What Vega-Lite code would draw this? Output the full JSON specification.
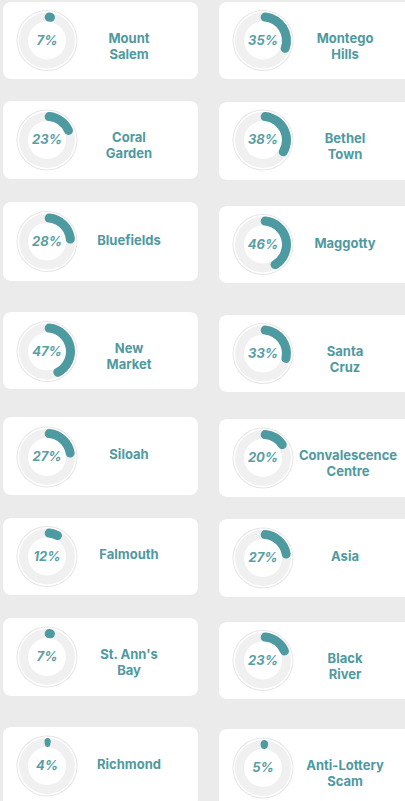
{
"$schema": "https://vega.github.io/schema/vega-lite/v6.json",
"background": "#ebebeb",
"padding": {"left": 3, "top": 2, "right": 0, "bottom": 0},
"config": {"view": {"fill": "white", "stroke": null, "cornerRadius": 8}, "font": "Inter"},
"datasets": {"cards": [
{"id": 1, "name": "Mount\nSalem", "pct": 0.07},
{"id": 2, "name": "Coral\nGarden", "pct": 0.23},
{"id": 3, "name": "Bluefields", "pct": 0.28},
{"id": 4, "name": "New\nMarket", "pct": 0.47},
{"id": 5, "name": "Siloah", "pct": 0.27},
{"id": 6, "name": "Falmouth", "pct": 0.12},
{"id": 7, "name": "St. Ann's\nBay", "pct": 0.07},
{"id": 8, "name": "Richmond", "pct": 0.04},
{"id": 9, "name": "Montego\nHills", "pct": 0.35},
{"id": 10, "name": "Bethel\nTown", "pct": 0.38},
{"id": 11, "name": "Maggotty", "pct": 0.46},
{"id": 12, "name": "Santa\nCruz", "pct": 0.33},
{"id": 13, "name": "Convalescence\nCentre", "pct": 0.20},
{"id": 14, "name": "Asia", "pct": 0.27},
{"id": 15, "name": "Black\nRiver", "pct": 0.23},
{"id": 16, "name": "Anti-Lottery\nScam", "pct": 0.05}
]},
"spacing": 21,
"hconcat": [
{"spacing": 22, "vconcat": [
 {"width": 195, "height": 77, "view": {"fill": "white", "stroke": null, "cornerRadius": 8}, "data": {"name": "cards"}, "transform": [{"filter": "datum.id == 1"}], "layer": [
  {"mark": {"type": "arc", "x": 44, "y": 38.5, "theta": 0, "theta2": 6.2832, "innerRadius": 29.5, "outerRadius": 30.5, "fill": "#e6e6e6"}, "encoding": {}},
  {"mark": {"type": "arc", "x": 44, "y": 38.5, "theta": 0, "theta2": 6.2832, "innerRadius": 19, "outerRadius": 28, "fill": "#f0f0f0"}, "encoding": {}},
  {"mark": {"type": "arc", "x": 44, "y": 38.5, "innerRadius": 19, "outerRadius": 28, "cornerRadius": 4.5, "fill": "#4d9aa1"}, "encoding": {"theta": {"field": "pct", "type": "quantitative", "stack": null, "scale": {"domain": [0, 1], "range": [-0.1, 6.1832]}}, "theta2": {"datum": 0}}},
  {"mark": {"type": "text", "x": 44, "y": 38.5, "fontSize": 13, "fontWeight": "bold", "fontStyle": "italic", "fill": "#5a9ea5"}, "encoding": {"text": {"field": "pct", "type": "quantitative", "format": ".0%"}}},
  {"mark": {"type": "text", "x": 126, "y": 36.5, "fontSize": 13, "fontWeight": "bold", "fill": "#4f99a0", "lineBreak": "\n", "lineHeight": 16}, "encoding": {"text": {"field": "name"}}}
 ]},
 {"spacing": 23, "vconcat": [
  {"width": 195, "height": 78, "view": {"fill": "white", "stroke": null, "cornerRadius": 8}, "data": {"name": "cards"}, "transform": [{"filter": "datum.id == 2"}], "layer": [
   {"mark": {"type": "arc", "x": 44, "y": 39, "theta": 0, "theta2": 6.2832, "innerRadius": 29.5, "outerRadius": 30.5, "fill": "#e6e6e6"}, "encoding": {}},
   {"mark": {"type": "arc", "x": 44, "y": 39, "theta": 0, "theta2": 6.2832, "innerRadius": 19, "outerRadius": 28, "fill": "#f0f0f0"}, "encoding": {}},
   {"mark": {"type": "arc", "x": 44, "y": 39, "innerRadius": 19, "outerRadius": 28, "cornerRadius": 4.5, "fill": "#4d9aa1"}, "encoding": {"theta": {"field": "pct", "type": "quantitative", "stack": null, "scale": {"domain": [0, 1], "range": [-0.1, 6.1832]}}, "theta2": {"datum": 0}}},
   {"mark": {"type": "text", "x": 44, "y": 39, "fontSize": 13, "fontWeight": "bold", "fontStyle": "italic", "fill": "#5a9ea5"}, "encoding": {"text": {"field": "pct", "type": "quantitative", "format": ".0%"}}},
   {"mark": {"type": "text", "x": 126, "y": 37, "fontSize": 13, "fontWeight": "bold", "fill": "#4f99a0", "lineBreak": "\n", "lineHeight": 16}, "encoding": {"text": {"field": "name"}}}
  ]},
  {"spacing": 31, "vconcat": [
   {"width": 195, "height": 79, "view": {"fill": "white", "stroke": null, "cornerRadius": 8}, "data": {"name": "cards"}, "transform": [{"filter": "datum.id == 3"}], "layer": [
    {"mark": {"type": "arc", "x": 44, "y": 39.5, "theta": 0, "theta2": 6.2832, "innerRadius": 29.5, "outerRadius": 30.5, "fill": "#e6e6e6"}, "encoding": {}},
    {"mark": {"type": "arc", "x": 44, "y": 39.5, "theta": 0, "theta2": 6.2832, "innerRadius": 19, "outerRadius": 28, "fill": "#f0f0f0"}, "encoding": {}},
    {"mark": {"type": "arc", "x": 44, "y": 39.5, "innerRadius": 19, "outerRadius": 28, "cornerRadius": 4.5, "fill": "#4d9aa1"}, "encoding": {"theta": {"field": "pct", "type": "quantitative", "stack": null, "scale": {"domain": [0, 1], "range": [-0.1, 6.1832]}}, "theta2": {"datum": 0}}},
    {"mark": {"type": "text", "x": 44, "y": 39.5, "fontSize": 13, "fontWeight": "bold", "fontStyle": "italic", "fill": "#5a9ea5"}, "encoding": {"text": {"field": "pct", "type": "quantitative", "format": ".0%"}}},
    {"mark": {"type": "text", "x": 126, "y": 38.5, "fontSize": 13, "fontWeight": "bold", "fill": "#4f99a0", "lineBreak": "\n", "lineHeight": 16}, "encoding": {"text": {"field": "name"}}}
   ]},
   {"spacing": 28, "vconcat": [
    {"width": 195, "height": 77, "view": {"fill": "white", "stroke": null, "cornerRadius": 8}, "data": {"name": "cards"}, "transform": [{"filter": "datum.id == 4"}], "layer": [
     {"mark": {"type": "arc", "x": 44, "y": 39.5, "theta": 0, "theta2": 6.2832, "innerRadius": 29.5, "outerRadius": 30.5, "fill": "#e6e6e6"}, "encoding": {}},
     {"mark": {"type": "arc", "x": 44, "y": 39.5, "theta": 0, "theta2": 6.2832, "innerRadius": 19, "outerRadius": 28, "fill": "#f0f0f0"}, "encoding": {}},
     {"mark": {"type": "arc", "x": 44, "y": 39.5, "innerRadius": 19, "outerRadius": 28, "cornerRadius": 4.5, "fill": "#4d9aa1"}, "encoding": {"theta": {"field": "pct", "type": "quantitative", "stack": null, "scale": {"domain": [0, 1], "range": [-0.1, 6.1832]}}, "theta2": {"datum": 0}}},
     {"mark": {"type": "text", "x": 44, "y": 39.5, "fontSize": 13, "fontWeight": "bold", "fontStyle": "italic", "fill": "#5a9ea5"}, "encoding": {"text": {"field": "pct", "type": "quantitative", "format": ".0%"}}},
     {"mark": {"type": "text", "x": 126, "y": 37, "fontSize": 13, "fontWeight": "bold", "fill": "#4f99a0", "lineBreak": "\n", "lineHeight": 16}, "encoding": {"text": {"field": "name"}}}
    ]},
    {"spacing": 23, "vconcat": [
     {"width": 195, "height": 78, "view": {"fill": "white", "stroke": null, "cornerRadius": 8}, "data": {"name": "cards"}, "transform": [{"filter": "datum.id == 5"}], "layer": [
      {"mark": {"type": "arc", "x": 44, "y": 40, "theta": 0, "theta2": 6.2832, "innerRadius": 29.5, "outerRadius": 30.5, "fill": "#e6e6e6"}, "encoding": {}},
      {"mark": {"type": "arc", "x": 44, "y": 40, "theta": 0, "theta2": 6.2832, "innerRadius": 19, "outerRadius": 28, "fill": "#f0f0f0"}, "encoding": {}},
      {"mark": {"type": "arc", "x": 44, "y": 40, "innerRadius": 19, "outerRadius": 28, "cornerRadius": 4.5, "fill": "#4d9aa1"}, "encoding": {"theta": {"field": "pct", "type": "quantitative", "stack": null, "scale": {"domain": [0, 1], "range": [-0.1, 6.1832]}}, "theta2": {"datum": 0}}},
      {"mark": {"type": "text", "x": 44, "y": 40, "fontSize": 13, "fontWeight": "bold", "fontStyle": "italic", "fill": "#5a9ea5"}, "encoding": {"text": {"field": "pct", "type": "quantitative", "format": ".0%"}}},
      {"mark": {"type": "text", "x": 126, "y": 38, "fontSize": 13, "fontWeight": "bold", "fill": "#4f99a0", "lineBreak": "\n", "lineHeight": 16}, "encoding": {"text": {"field": "name"}}}
     ]},
     {"spacing": 23, "vconcat": [
      {"width": 195, "height": 77, "view": {"fill": "white", "stroke": null, "cornerRadius": 8}, "data": {"name": "cards"}, "transform": [{"filter": "datum.id == 6"}], "layer": [
       {"mark": {"type": "arc", "x": 44, "y": 38.5, "theta": 0, "theta2": 6.2832, "innerRadius": 29.5, "outerRadius": 30.5, "fill": "#e6e6e6"}, "encoding": {}},
       {"mark": {"type": "arc", "x": 44, "y": 38.5, "theta": 0, "theta2": 6.2832, "innerRadius": 19, "outerRadius": 28, "fill": "#f0f0f0"}, "encoding": {}},
       {"mark": {"type": "arc", "x": 44, "y": 38.5, "innerRadius": 19, "outerRadius": 28, "cornerRadius": 4.5, "fill": "#4d9aa1"}, "encoding": {"theta": {"field": "pct", "type": "quantitative", "stack": null, "scale": {"domain": [0, 1], "range": [-0.1, 6.1832]}}, "theta2": {"datum": 0}}},
       {"mark": {"type": "text", "x": 44, "y": 38.5, "fontSize": 13, "fontWeight": "bold", "fontStyle": "italic", "fill": "#5a9ea5"}, "encoding": {"text": {"field": "pct", "type": "quantitative", "format": ".0%"}}},
       {"mark": {"type": "text", "x": 126, "y": 37, "fontSize": 13, "fontWeight": "bold", "fill": "#4f99a0", "lineBreak": "\n", "lineHeight": 16}, "encoding": {"text": {"field": "name"}}}
      ]},
      {"spacing": 31, "vconcat": [
       {"width": 195, "height": 78, "view": {"fill": "white", "stroke": null, "cornerRadius": 8}, "data": {"name": "cards"}, "transform": [{"filter": "datum.id == 7"}], "layer": [
        {"mark": {"type": "arc", "x": 44, "y": 39, "theta": 0, "theta2": 6.2832, "innerRadius": 29.5, "outerRadius": 30.5, "fill": "#e6e6e6"}, "encoding": {}},
        {"mark": {"type": "arc", "x": 44, "y": 39, "theta": 0, "theta2": 6.2832, "innerRadius": 19, "outerRadius": 28, "fill": "#f0f0f0"}, "encoding": {}},
        {"mark": {"type": "arc", "x": 44, "y": 39, "innerRadius": 19, "outerRadius": 28, "cornerRadius": 4.5, "fill": "#4d9aa1"}, "encoding": {"theta": {"field": "pct", "type": "quantitative", "stack": null, "scale": {"domain": [0, 1], "range": [-0.1, 6.1832]}}, "theta2": {"datum": 0}}},
        {"mark": {"type": "text", "x": 44, "y": 39, "fontSize": 13, "fontWeight": "bold", "fontStyle": "italic", "fill": "#5a9ea5"}, "encoding": {"text": {"field": "pct", "type": "quantitative", "format": ".0%"}}},
        {"mark": {"type": "text", "x": 126, "y": 37, "fontSize": 13, "fontWeight": "bold", "fill": "#4f99a0", "lineBreak": "\n", "lineHeight": 16}, "encoding": {"text": {"field": "name"}}}
       ]},
       {"width": 195, "height": 80, "view": {"fill": "white", "stroke": null, "cornerRadius": 8}, "data": {"name": "cards"}, "transform": [{"filter": "datum.id == 8"}], "layer": [
        {"mark": {"type": "arc", "x": 44, "y": 39, "theta": 0, "theta2": 6.2832, "innerRadius": 29.5, "outerRadius": 30.5, "fill": "#e6e6e6"}, "encoding": {}},
        {"mark": {"type": "arc", "x": 44, "y": 39, "theta": 0, "theta2": 6.2832, "innerRadius": 19, "outerRadius": 28, "fill": "#f0f0f0"}, "encoding": {}},
        {"mark": {"type": "arc", "x": 44, "y": 39, "innerRadius": 19, "outerRadius": 28, "cornerRadius": 4.5, "fill": "#4d9aa1"}, "encoding": {"theta": {"field": "pct", "type": "quantitative", "stack": null, "scale": {"domain": [0, 1], "range": [-0.1, 6.1832]}}, "theta2": {"datum": 0}}},
        {"mark": {"type": "text", "x": 44, "y": 39, "fontSize": 13, "fontWeight": "bold", "fontStyle": "italic", "fill": "#5a9ea5"}, "encoding": {"text": {"field": "pct", "type": "quantitative", "format": ".0%"}}},
        {"mark": {"type": "text", "x": 126, "y": 38, "fontSize": 13, "fontWeight": "bold", "fill": "#4f99a0", "lineBreak": "\n", "lineHeight": 16}, "encoding": {"text": {"field": "name"}}}
       ]}
      ]}
     ]}
    ]}
   ]}
  ]}
 ]}
]},
{"spacing": 23, "vconcat": [
 {"width": 195, "height": 77, "view": {"fill": "white", "stroke": null, "cornerRadius": 8}, "data": {"name": "cards"}, "transform": [{"filter": "datum.id == 9"}], "layer": [
  {"mark": {"type": "arc", "x": 44, "y": 38.5, "theta": 0, "theta2": 6.2832, "innerRadius": 29.5, "outerRadius": 30.5, "fill": "#e6e6e6"}, "encoding": {}},
  {"mark": {"type": "arc", "x": 44, "y": 38.5, "theta": 0, "theta2": 6.2832, "innerRadius": 19, "outerRadius": 28, "fill": "#f0f0f0"}, "encoding": {}},
  {"mark": {"type": "arc", "x": 44, "y": 38.5, "innerRadius": 19, "outerRadius": 28, "cornerRadius": 4.5, "fill": "#4d9aa1"}, "encoding": {"theta": {"field": "pct", "type": "quantitative", "stack": null, "scale": {"domain": [0, 1], "range": [-0.1, 6.1832]}}, "theta2": {"datum": 0}}},
  {"mark": {"type": "text", "x": 44, "y": 38.5, "fontSize": 13, "fontWeight": "bold", "fontStyle": "italic", "fill": "#5a9ea5"}, "encoding": {"text": {"field": "pct", "type": "quantitative", "format": ".0%"}}},
  {"mark": {"type": "text", "x": 126, "y": 37, "fontSize": 13, "fontWeight": "bold", "fill": "#4f99a0", "lineBreak": "\n", "lineHeight": 16}, "encoding": {"text": {"field": "name"}}}
 ]},
 {"spacing": 26, "vconcat": [
  {"width": 195, "height": 78, "view": {"fill": "white", "stroke": null, "cornerRadius": 8}, "data": {"name": "cards"}, "transform": [{"filter": "datum.id == 10"}], "layer": [
   {"mark": {"type": "arc", "x": 44, "y": 38, "theta": 0, "theta2": 6.2832, "innerRadius": 29.5, "outerRadius": 30.5, "fill": "#e6e6e6"}, "encoding": {}},
   {"mark": {"type": "arc", "x": 44, "y": 38, "theta": 0, "theta2": 6.2832, "innerRadius": 19, "outerRadius": 28, "fill": "#f0f0f0"}, "encoding": {}},
   {"mark": {"type": "arc", "x": 44, "y": 38, "innerRadius": 19, "outerRadius": 28, "cornerRadius": 4.5, "fill": "#4d9aa1"}, "encoding": {"theta": {"field": "pct", "type": "quantitative", "stack": null, "scale": {"domain": [0, 1], "range": [-0.1, 6.1832]}}, "theta2": {"datum": 0}}},
   {"mark": {"type": "text", "x": 44, "y": 38, "fontSize": 13, "fontWeight": "bold", "fontStyle": "italic", "fill": "#5a9ea5"}, "encoding": {"text": {"field": "pct", "type": "quantitative", "format": ".0%"}}},
   {"mark": {"type": "text", "x": 126, "y": 37, "fontSize": 13, "fontWeight": "bold", "fill": "#4f99a0", "lineBreak": "\n", "lineHeight": 16}, "encoding": {"text": {"field": "name"}}}
  ]},
  {"spacing": 32, "vconcat": [
   {"width": 195, "height": 77, "view": {"fill": "white", "stroke": null, "cornerRadius": 8}, "data": {"name": "cards"}, "transform": [{"filter": "datum.id == 11"}], "layer": [
    {"mark": {"type": "arc", "x": 44, "y": 38.5, "theta": 0, "theta2": 6.2832, "innerRadius": 29.5, "outerRadius": 30.5, "fill": "#e6e6e6"}, "encoding": {}},
    {"mark": {"type": "arc", "x": 44, "y": 38.5, "theta": 0, "theta2": 6.2832, "innerRadius": 19, "outerRadius": 28, "fill": "#f0f0f0"}, "encoding": {}},
    {"mark": {"type": "arc", "x": 44, "y": 38.5, "innerRadius": 19, "outerRadius": 28, "cornerRadius": 4.5, "fill": "#4d9aa1"}, "encoding": {"theta": {"field": "pct", "type": "quantitative", "stack": null, "scale": {"domain": [0, 1], "range": [-0.1, 6.1832]}}, "theta2": {"datum": 0}}},
    {"mark": {"type": "text", "x": 44, "y": 38.5, "fontSize": 13, "fontWeight": "bold", "fontStyle": "italic", "fill": "#5a9ea5"}, "encoding": {"text": {"field": "pct", "type": "quantitative", "format": ".0%"}}},
    {"mark": {"type": "text", "x": 126, "y": 37.5, "fontSize": 13, "fontWeight": "bold", "fill": "#4f99a0", "lineBreak": "\n", "lineHeight": 16}, "encoding": {"text": {"field": "name"}}}
   ]},
   {"spacing": 27, "vconcat": [
    {"width": 195, "height": 77, "view": {"fill": "white", "stroke": null, "cornerRadius": 8}, "data": {"name": "cards"}, "transform": [{"filter": "datum.id == 12"}], "layer": [
     {"mark": {"type": "arc", "x": 44, "y": 38.5, "theta": 0, "theta2": 6.2832, "innerRadius": 29.5, "outerRadius": 30.5, "fill": "#e6e6e6"}, "encoding": {}},
     {"mark": {"type": "arc", "x": 44, "y": 38.5, "theta": 0, "theta2": 6.2832, "innerRadius": 19, "outerRadius": 28, "fill": "#f0f0f0"}, "encoding": {}},
     {"mark": {"type": "arc", "x": 44, "y": 38.5, "innerRadius": 19, "outerRadius": 28, "cornerRadius": 4.5, "fill": "#4d9aa1"}, "encoding": {"theta": {"field": "pct", "type": "quantitative", "stack": null, "scale": {"domain": [0, 1], "range": [-0.1, 6.1832]}}, "theta2": {"datum": 0}}},
     {"mark": {"type": "text", "x": 44, "y": 38.5, "fontSize": 13, "fontWeight": "bold", "fontStyle": "italic", "fill": "#5a9ea5"}, "encoding": {"text": {"field": "pct", "type": "quantitative", "format": ".0%"}}},
     {"mark": {"type": "text", "x": 126, "y": 37, "fontSize": 13, "fontWeight": "bold", "fill": "#4f99a0", "lineBreak": "\n", "lineHeight": 16}, "encoding": {"text": {"field": "name"}}}
    ]},
    {"spacing": 22, "vconcat": [
     {"width": 195, "height": 78, "view": {"fill": "white", "stroke": null, "cornerRadius": 8}, "data": {"name": "cards"}, "transform": [{"filter": "datum.id == 13"}], "layer": [
      {"mark": {"type": "arc", "x": 44, "y": 39, "theta": 0, "theta2": 6.2832, "innerRadius": 29.5, "outerRadius": 30.5, "fill": "#e6e6e6"}, "encoding": {}},
      {"mark": {"type": "arc", "x": 44, "y": 39, "theta": 0, "theta2": 6.2832, "innerRadius": 19, "outerRadius": 28, "fill": "#f0f0f0"}, "encoding": {}},
      {"mark": {"type": "arc", "x": 44, "y": 39, "innerRadius": 19, "outerRadius": 28, "cornerRadius": 4.5, "fill": "#4d9aa1"}, "encoding": {"theta": {"field": "pct", "type": "quantitative", "stack": null, "scale": {"domain": [0, 1], "range": [-0.1, 6.1832]}}, "theta2": {"datum": 0}}},
      {"mark": {"type": "text", "x": 44, "y": 39, "fontSize": 13, "fontWeight": "bold", "fontStyle": "italic", "fill": "#5a9ea5"}, "encoding": {"text": {"field": "pct", "type": "quantitative", "format": ".0%"}}},
      {"mark": {"type": "text", "x": 129, "y": 37, "fontSize": 13, "fontWeight": "bold", "fill": "#4f99a0", "lineBreak": "\n", "lineHeight": 16}, "encoding": {"text": {"field": "name"}}}
     ]},
     {"spacing": 25, "vconcat": [
      {"width": 195, "height": 78, "view": {"fill": "white", "stroke": null, "cornerRadius": 8}, "data": {"name": "cards"}, "transform": [{"filter": "datum.id == 14"}], "layer": [
       {"mark": {"type": "arc", "x": 44, "y": 39, "theta": 0, "theta2": 6.2832, "innerRadius": 29.5, "outerRadius": 30.5, "fill": "#e6e6e6"}, "encoding": {}},
       {"mark": {"type": "arc", "x": 44, "y": 39, "theta": 0, "theta2": 6.2832, "innerRadius": 19, "outerRadius": 28, "fill": "#f0f0f0"}, "encoding": {}},
       {"mark": {"type": "arc", "x": 44, "y": 39, "innerRadius": 19, "outerRadius": 28, "cornerRadius": 4.5, "fill": "#4d9aa1"}, "encoding": {"theta": {"field": "pct", "type": "quantitative", "stack": null, "scale": {"domain": [0, 1], "range": [-0.1, 6.1832]}}, "theta2": {"datum": 0}}},
       {"mark": {"type": "text", "x": 44, "y": 39, "fontSize": 13, "fontWeight": "bold", "fontStyle": "italic", "fill": "#5a9ea5"}, "encoding": {"text": {"field": "pct", "type": "quantitative", "format": ".0%"}}},
       {"mark": {"type": "text", "x": 126, "y": 37.5, "fontSize": 13, "fontWeight": "bold", "fill": "#4f99a0", "lineBreak": "\n", "lineHeight": 16}, "encoding": {"text": {"field": "name"}}}
      ]},
      {"spacing": 30, "vconcat": [
       {"width": 195, "height": 77, "view": {"fill": "white", "stroke": null, "cornerRadius": 8}, "data": {"name": "cards"}, "transform": [{"filter": "datum.id == 15"}], "layer": [
        {"mark": {"type": "arc", "x": 44, "y": 38.5, "theta": 0, "theta2": 6.2832, "innerRadius": 29.5, "outerRadius": 30.5, "fill": "#e6e6e6"}, "encoding": {}},
        {"mark": {"type": "arc", "x": 44, "y": 38.5, "theta": 0, "theta2": 6.2832, "innerRadius": 19, "outerRadius": 28, "fill": "#f0f0f0"}, "encoding": {}},
        {"mark": {"type": "arc", "x": 44, "y": 38.5, "innerRadius": 19, "outerRadius": 28, "cornerRadius": 4.5, "fill": "#4d9aa1"}, "encoding": {"theta": {"field": "pct", "type": "quantitative", "stack": null, "scale": {"domain": [0, 1], "range": [-0.1, 6.1832]}}, "theta2": {"datum": 0}}},
        {"mark": {"type": "text", "x": 44, "y": 38.5, "fontSize": 13, "fontWeight": "bold", "fontStyle": "italic", "fill": "#5a9ea5"}, "encoding": {"text": {"field": "pct", "type": "quantitative", "format": ".0%"}}},
        {"mark": {"type": "text", "x": 126, "y": 37, "fontSize": 13, "fontWeight": "bold", "fill": "#4f99a0", "lineBreak": "\n", "lineHeight": 16}, "encoding": {"text": {"field": "name"}}}
       ]},
       {"width": 195, "height": 80, "view": {"fill": "white", "stroke": null, "cornerRadius": 8}, "data": {"name": "cards"}, "transform": [{"filter": "datum.id == 16"}], "layer": [
        {"mark": {"type": "arc", "x": 44, "y": 39, "theta": 0, "theta2": 6.2832, "innerRadius": 29.5, "outerRadius": 30.5, "fill": "#e6e6e6"}, "encoding": {}},
        {"mark": {"type": "arc", "x": 44, "y": 39, "theta": 0, "theta2": 6.2832, "innerRadius": 19, "outerRadius": 28, "fill": "#f0f0f0"}, "encoding": {}},
        {"mark": {"type": "arc", "x": 44, "y": 39, "innerRadius": 19, "outerRadius": 28, "cornerRadius": 4.5, "fill": "#4d9aa1"}, "encoding": {"theta": {"field": "pct", "type": "quantitative", "stack": null, "scale": {"domain": [0, 1], "range": [-0.1, 6.1832]}}, "theta2": {"datum": 0}}},
        {"mark": {"type": "text", "x": 44, "y": 39, "fontSize": 13, "fontWeight": "bold", "fontStyle": "italic", "fill": "#5a9ea5"}, "encoding": {"text": {"field": "pct", "type": "quantitative", "format": ".0%"}}},
        {"mark": {"type": "text", "x": 126, "y": 37, "fontSize": 13, "fontWeight": "bold", "fill": "#4f99a0", "lineBreak": "\n", "lineHeight": 16}, "encoding": {"text": {"field": "name"}}}
       ]}
      ]}
     ]}
    ]}
   ]}
  ]}
 ]}
]}
]
}
